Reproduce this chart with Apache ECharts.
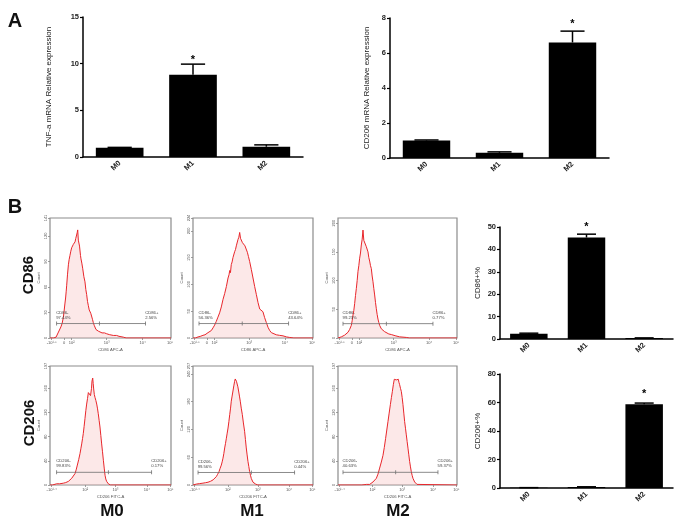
<!DOCTYPE html>
<html><head><meta charset="utf-8">
<script src="https://cdn.jsdelivr.net/npm/echarts@6/dist/echarts.min.js"></script>
<style>html,body{margin:0;padding:0;background:#fff}#c{width:676px;height:520px}</style>
</head><body><div id="c"></div><script>
// ---------- bar chart data ----------
const groups = ['M0', 'M1', 'M2'];
const tnfMean = [1.0, 8.8, 1.1];
const tnfErr = [0.03, 1.15, 0.2];
const cd206mMean = [1.0, 0.3, 6.6];
const cd206mErr = [0.03, 0.05, 0.65];
const cd86PctMean = [2.3, 45.3, 0.4];
const cd86PctErr = [0.3, 1.5, 0.1];
const cd206PctMean = [0.2, 0.7, 58.8];
const cd206PctErr = [0.05, 0.15, 0.8];
const sigGroups = ['M1', 'M2', 'M1', 'M2'];

// ---------- flow histograms ([channel %, count]) ----------
const histCD86_M0 = [[0,0],[3,0],[5,1],[6,3],[7,7],[8,9],[9,13],[10,17],[11,24],[11.6,31],[12.3,40],[12.9,47],[13.4,55],[13.8,62],[14.5,75],[15.2,86],[15.8,92],[16.5,97],[17.2,102],[17.9,106],[18.6,104],[19.3,110],[20,108],[20.7,113],[21.3,117],[22,121],[22.5,124],[22.9,127],[23.4,115],[24,117],[24.4,108],[24.8,106],[25.2,97],[25.6,93],[26.3,88],[27,82],[28,72],[28.9,66],[29.6,57],[30.3,51],[31,43],[31.7,38],[32.4,33],[33,31],[33.7,29],[34.4,27],[35.1,22],[35.8,18],[36.5,15],[37.2,13],[38,10],[38.6,9],[40,8],[41.3,7],[43,6],[45,6],[46.8,5],[49,4],[52.3,3],[55,3],[57,2],[60.6,1],[63,0],[100,0]];
const histCD86_M1 = [[0,0],[2,0],[4.2,2],[6,3],[8.3,5],[10,6],[12.5,10],[14,12],[15.3,14],[16.7,19],[18,24],[19.4,31],[20.8,39],[22.2,47],[23.6,58],[25,72],[26.4,83],[27.8,96],[29.2,112],[30,118],[30.6,126],[31.2,122],[31.9,137],[32.6,142],[33.3,150],[34,147],[34.7,161],[35.4,165],[36.1,172],[36.8,170],[37.5,184],[38.2,188],[38.9,197],[39.6,186],[40.3,188],[41.2,178],[42.2,180],[43.3,172],[44.4,170],[45.3,160],[46.2,152],[47.2,143],[48.6,128],[50,112],[51.4,96],[52.8,81],[54.2,66],[55.6,54],[56.9,52],[58.3,49],[59.7,38],[61.1,29],[62.5,20],[63.9,14],[65.3,10],[66.7,8],[69.4,6],[72,5],[75,4],[78,2],[80.6,1],[84,0],[100,0]];
const histCD86_M2 = [[0,0],[1.5,0],[2.8,2],[4.2,3],[5.6,5],[7,7],[8.4,10],[9.8,15],[11.2,22],[11.9,30],[12.6,40],[13.3,48],[14,60],[14.7,74],[15.4,86],[16.1,100],[16.8,116],[17.5,126],[18.2,139],[18.9,148],[19.6,162],[20.3,172],[21,188],[21.7,170],[22.4,167],[23.1,170],[23.8,159],[24.5,156],[25.2,150],[25.9,140],[26.6,134],[27.3,126],[28,121],[28.7,108],[29.4,98],[30.1,86],[30.8,75],[31.5,62],[32.2,51],[32.9,41],[33.6,33],[34.3,27],[35,22],[36.4,16],[37.8,13],[39.2,11],[40.6,9],[42.7,7],[44.8,6],[48,4],[51.8,2],[57.4,1],[60,0],[100,0]];
const histCD206_M0 = [[0,0],[2,0],[5.5,2],[8,2],[11,3],[13,4],[15.2,6],[16.5,8],[17.9,11],[19.3,14],[20.7,19],[21.6,25],[22.6,33],[23.7,42],[24.8,52],[25.5,60],[26.2,68],[26.9,77],[27.5,85],[28.2,97],[28.9,110],[29.6,123],[30.3,134],[31,143],[31.7,153],[32.4,150],[33,156],[33.5,148],[33.9,145],[34.3,160],[34.7,172],[35.3,177],[35.7,168],[36.1,159],[36.6,150],[37.2,145],[37.9,140],[38.6,134],[39.3,126],[39.9,118],[40.6,107],[41.3,96],[42,82],[42.7,68],[43.4,55],[44.1,41],[44.8,28],[45.5,16],[46.1,10],[46.8,6],[48.2,2],[50,0],[100,0]];
const histCD206_M1 = [[0,0],[1.5,0],[2.8,2],[5.5,3],[8.3,4],[10.5,5],[12.5,6],[14.6,8],[16.7,11],[18,14],[19.4,18],[20.5,23],[21.7,29],[22.6,36],[23.6,43],[24.3,50],[25,58],[25.7,68],[26.4,80],[27.1,90],[27.8,101],[28.5,112],[29.2,123],[29.9,137],[30.6,152],[31.3,166],[31.9,181],[32.6,192],[33.3,203],[34,214],[34.7,224],[35.2,229],[35.6,231],[36.2,224],[36.7,221],[37.4,212],[38,203],[38.7,192],[39.4,181],[40.2,166],[41.1,152],[42,134],[43,116],[43.7,98],[44.4,80],[45.1,65],[45.8,51],[46.5,40],[47.2,29],[47.9,21],[48.6,14],[50,6],[52.2,2],[54,0],[100,0]];
const histCD206_M2 = [[0,0],[20,0],[24,1],[26.6,1],[28,3],[29.4,5],[30.8,8],[32.2,11],[33.6,18],[35,28],[36.4,38],[37.8,49],[38.9,62],[40,77],[41,91],[42,105],[43,119],[44,133],[44.9,145],[45.7,155],[46.5,166],[47.3,175],[47.9,178],[48.5,177],[49,174],[49.6,172],[50.1,176],[50.7,175],[51.2,170],[51.8,166],[52.5,160],[53.2,155],[53.9,145],[54.6,133],[55.3,119],[56,105],[56.7,94],[57.4,83],[58.1,72],[58.8,61],[59.5,50],[60.2,39],[60.9,30],[61.6,22],[62.3,16],[63,11],[63.7,8],[64.4,5],[66.4,1],[68,0],[100,0]];

const histYMax = [141, 224, 209, 197, 257, 197];
const histYStep = [30, 50, 50, 40, 60, 40];
const row1TickPos = [1.4, 11.6, 17.9, 46.8, 76.6, 99.2];
const row1TickLabels = ['-10¹·⁵', '0', '10²', '10³', '10⁴', '10⁵'];
const row2TickPos = [1.4, 29, 54, 80, 99.5];
const row2TickLabels = ['-10¹·⁴', '10²', '10³', '10⁴', '10⁵'];
const gateLevels = [17, 27, 25, 21, 27, 21];
const gateBounds = [[5.5,40.8,79],[5,41,79.7],[4.2,40.6,79.8],[5.5,48.2,84],[4.2,48.6,84.7],[4.2,48.5,84]];
const gateNeg = ['CD86-\n97.44%', 'CD86-\n56.36%', 'CD86-\n99.23%', 'CD206-\n99.83%', 'CD206-\n99.56%', 'CD206-\n40.63%'];
const gatePos = ['CD86+\n2.56%', 'CD86+\n43.64%', 'CD86+\n0.77%', 'CD206+\n0.17%', 'CD206+\n0.44%', 'CD206+\n59.37%'];

// ---------- build ----------
const FONT = "'Liberation Sans', Arial, sans-serif";
const grids = [], xAxes = [], yAxes = [], series = [];

function barChart(g, box, mean, err, sig, yMax, yStep, yName, nameGap, starOff) {
  grids.push(Object.assign({ outerBoundsMode: 'none', containLabel: false }, box));
  xAxes.push({
    gridIndex: g, type: 'category', data: groups,
    axisLine: { lineStyle: { color: '#000', width: 1.5 } },
    axisTick: { alignWithLabel: true, length: 3, lineStyle: { color: '#000', width: 1.2 } },
    axisLabel: { rotate: 45, fontSize: 7.5, fontWeight: 'bold', color: '#222', margin: 5, fontFamily: FONT }
  });
  yAxes.push({
    gridIndex: g, type: 'value', min: 0, max: yMax, interval: yStep,
    name: yName, nameLocation: 'middle', nameGap: nameGap,
    nameTextStyle: { fontSize: 8, color: '#222', fontFamily: FONT },
    axisLine: { show: true, lineStyle: { color: '#000', width: 1.5 } },
    axisTick: { show: true, length: 3, lineStyle: { color: '#000', width: 1.2 } },
    axisLabel: { fontSize: 7.5, fontWeight: 'bold', color: '#222', margin: 4, fontFamily: FONT },
    splitLine: { show: false }
  });
  series.push({
    type: 'bar', xAxisIndex: g, yAxisIndex: g, data: mean, barWidth: '65%',
    itemStyle: { color: '#000' }, silent: true
  });
  series.push({
    type: 'custom', xAxisIndex: g, yAxisIndex: g, silent: true, z: 5,
    data: mean.map((m, i) => [i, m, m + err[i], groups[i] === sig ? 1 : 0]),
    renderItem(params, api) {
      const i = api.value(0);
      const lo = api.coord([i, api.value(1)]);
      const hi = api.coord([i, api.value(2)]);
      const half = api.size([1, 0])[0] * 0.165;
      const children = [
        { type: 'line', shape: { x1: lo[0], y1: lo[1], x2: hi[0], y2: hi[1] }, style: { stroke: '#000', lineWidth: 1.5 } },
        { type: 'line', shape: { x1: hi[0] - half, y1: hi[1], x2: hi[0] + half, y2: hi[1] }, style: { stroke: '#000', lineWidth: 1.5 } }
      ];
      if (api.value(3)) {
        children.push({ type: 'text', style: { text: '*', x: hi[0], y: hi[1] - starOff, textAlign: 'center', textVerticalAlign: 'middle', font: 'bold 11px ' + FONT, fill: '#000' } });
      }
      return { type: 'group', children };
    }
  });
}

function histChart(g, k, box, pts, tickPos, tickLabels, xName) {
  grids.push(Object.assign({ outerBoundsMode: 'none', containLabel: false, show: true, borderColor: '#8c8c8c', borderWidth: 1.2 }, box));
  xAxes.push({
    gridIndex: g, type: 'value', min: 0, max: 100,
    name: xName, nameLocation: 'middle', nameGap: 10,
    nameTextStyle: { fontSize: 4.2, color: '#555', fontFamily: FONT },
    axisLine: { show: false },
    axisTick: { show: true, customValues: tickPos, length: 2, lineStyle: { color: '#888', width: 0.8 } },
    axisLabel: { customValues: tickPos, fontSize: 4, color: '#555', margin: 2.5, fontFamily: FONT,
      formatter: v => tickLabels[tickPos.indexOf(v)] ?? '' },
    splitLine: { show: false }
  });
  yAxes.push({
    gridIndex: g, type: 'value', min: 0, max: histYMax[k], interval: histYStep[k],
    name: 'Count', nameLocation: 'middle', nameGap: 9,
    nameTextStyle: { fontSize: 4.2, color: '#555', fontFamily: FONT },
    axisLine: { show: false },
    axisTick: { show: true, length: 2, lineStyle: { color: '#888', width: 0.8 } },
    axisLabel: { fontSize: 4, rotate: 90, color: '#555', margin: 2.5, fontFamily: FONT },
    splitLine: { show: false }
  });
  series.push({
    type: 'line', xAxisIndex: g, yAxisIndex: g, data: pts, showSymbol: false, silent: true,
    lineStyle: { color: '#e8262b', width: 1 },
    areaStyle: { color: 'rgba(244,170,170,0.38)' }, z: 2
  });
  const gb = gateBounds[k], gy = gateLevels[k];
  const lab = (t) => ({ show: true, formatter: t, position: [0, -11.5], align: 'left',
    fontSize: 4.2, lineHeight: 5, color: '#444', fontFamily: FONT });
  series.push({
    type: 'line', xAxisIndex: g, yAxisIndex: g, silent: true, z: 4,
    symbol: 'rect', symbolSize: [0.8, 4], showSymbol: true,
    itemStyle: { color: '#6f6f6f' }, lineStyle: { color: '#6f6f6f', width: 0.8 },
    data: [
      { value: [gb[0], gy], label: lab(gateNeg[k]) },
      { value: [gb[1], gy] },
      { value: [gb[2], gy], label: lab(gatePos[k]) }
    ]
  });
}

barChart(0, { left: 83, top: 17, width: 220, height: 140 }, tnfMean, tnfErr, sigGroups[0], 15, 5, 'TNF-a mRNA Relative expression', 30, 4);
barChart(1, { left: 390, top: 18, width: 219, height: 140 }, cd206mMean, cd206mErr, sigGroups[1], 8, 2, 'CD206 mRNA Relative expression', 19, 7);
barChart(2, { left: 500, top: 227, width: 173, height: 112 }, cd86PctMean, cd86PctErr, sigGroups[2], 50, 10, 'CD86+%', 18, 7);
barChart(3, { left: 500, top: 374, width: 173, height: 114 }, cd206PctMean, cd206PctErr, sigGroups[3], 80, 20, 'CD206+%', 18, 9);

const histSets = [histCD86_M0, histCD86_M1, histCD86_M2, histCD206_M0, histCD206_M1, histCD206_M2];
const histBoxes = [
  { left: 50, top: 218, width: 121, height: 120 },
  { left: 193, top: 218, width: 120, height: 120 },
  { left: 338, top: 218, width: 119, height: 120 },
  { left: 50, top: 366, width: 121, height: 119 },
  { left: 193, top: 366, width: 120, height: 119 },
  { left: 338, top: 366, width: 119, height: 119 }
];
for (let k = 0; k < 6; k++) {
  const row1 = k < 3;
  histChart(4 + k, k, histBoxes[k], histSets[k],
    row1 ? row1TickPos : row2TickPos, row1 ? row1TickLabels : row2TickLabels,
    row1 ? 'CD86 APC-A' : 'CD206 FITC-A');
}

const txt = (t, x, y, size, rot) => ({
  type: 'text', x, y, rotation: rot || 0,
  style: { text: t, font: 'bold ' + size + 'px ' + FONT, fill: '#111', textAlign: 'center', textVerticalAlign: 'middle' }
});

const chart = echarts.init(document.getElementById('c'), null, { renderer: 'canvas' });
chart.setOption({
  animation: false,
  backgroundColor: '#fff',
  grid: grids, xAxis: xAxes, yAxis: yAxes, series,
  graphic: [
    txt('A', 15, 21, 20),
    txt('B', 15, 207, 20),
    txt('CD86', 29, 275, 15, Math.PI / 2),
    txt('CD206', 30, 423, 15, Math.PI / 2),
    txt('M0', 112, 511, 17),
    txt('M1', 252, 511, 17),
    txt('M2', 398, 511, 17)
  ]
});
</script></body></html>
